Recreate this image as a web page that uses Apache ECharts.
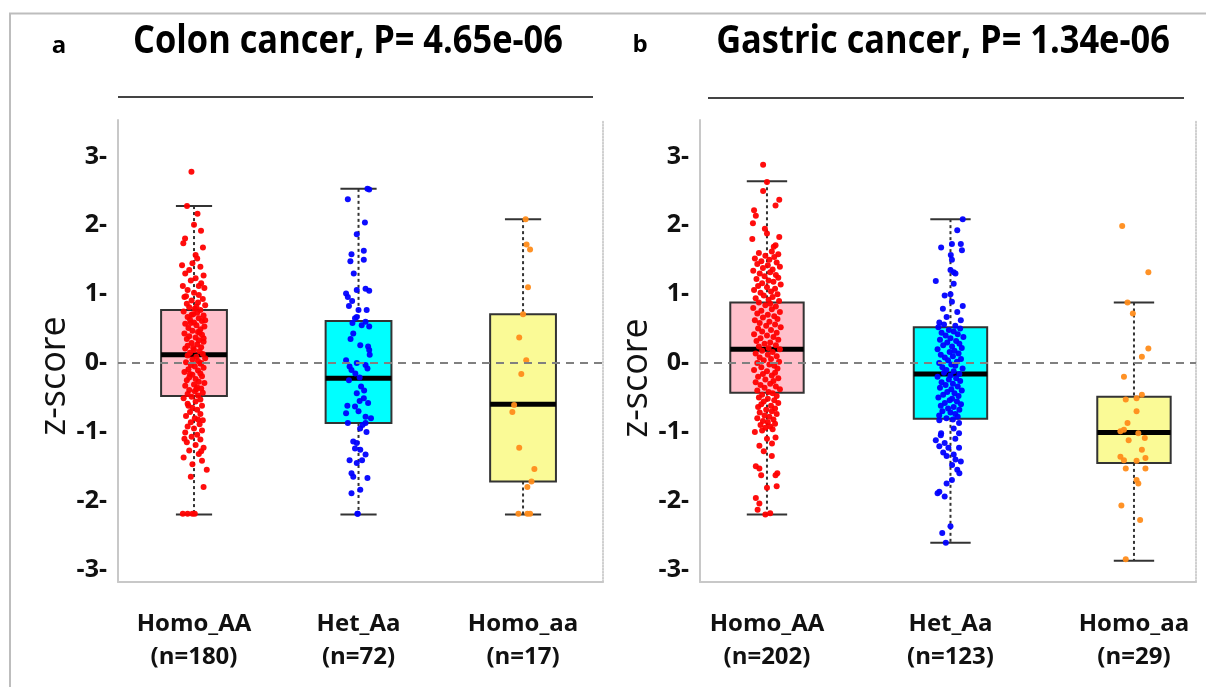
<!DOCTYPE html>
<html>
<head>
<meta charset="utf-8">
<script src="https://cdn.jsdelivr.net/npm/echarts@6/dist/echarts.min.js"></script>
<style>
  html, body { margin: 0; padding: 0; background: #fff; }
  #chart { width: 1206px; height: 687px; }
</style>
</head>
<body>
<div id="chart"></div>
<script>
const groups = ["Homo_AA", "Het_Aa", "Homo_aa"];
const colonCounts = [180, 72, 17];
const gastricCounts = [202, 123, 29];
const yTicks = [-3, -2, -1, 0, 1, 2, 3];

// box stats: [lower whisker, Q1, median, Q3, upper whisker]
const colonBoxes = [
  [-2.2, -0.48, 0.12, 0.77, 2.28],
  [-2.2, -0.87, -0.22, 0.61, 2.53],
  [-2.2, -1.72, -0.6, 0.71, 2.09],
];
const gastricBoxes = [
  [-2.2, -0.43, 0.2, 0.88, 2.64],
  [-2.61, -0.81, -0.16, 0.52, 2.09],
  [-2.87, -1.45, -1.01, -0.49, 0.88],
];

// points: [jitter (-1..1), z-score]
const colonAA = [
  [-0.16,2.78],[-0.44,2.28],[0.22,2.17],[0,2.01],[0.44,1.92],[-0.56,1.81],[-0.67,1.74],[0.56,1.68],[0.1,1.57],[0.2,1.52],
  [-0.1,1.45],[-0.75,1.42],[0.4,1.40],[-0.3,1.35],[-0.55,1.30],[0.6,1.27],[0.1,1.23],[-0.2,1.20],[0.45,1.16],[-0.7,1.12],
  [0.65,1.09],[-0.4,1.06],[0,1.02],[0.3,0.99],[-0.6,0.96],[0.55,0.93],[-0.15,0.91],[0.25,0.88],[-0.45,0.86],[0.7,0.84],
  [-0.3,0.81],[0.05,0.79],[0.4,0.77],[-0.65,0.75],[0.2,0.73],[-0.05,0.71],[0.6,0.69],[-0.4,0.67],[0.3,0.65],[-0.25,0.63],
  [0.5,0.61],[0,0.59],[-0.55,0.57],[0.15,0.55],[0.65,0.53],[-0.35,0.51],[0.4,0.49],[-0.1,0.47],[0.25,0.45],[-0.6,0.43],
  [0.5,0.41],[-0.3,0.39],[0.1,0.37],[-0.45,0.35],[0.3,0.33],[0.6,0.31],[-0.15,0.29],[0.2,0.27],[-0.4,0.25],[0.45,0.23],
  [-0.55,0.21],[0,0.19],[0.35,0.17],[-0.25,0.15],[0.55,0.13],[-0.4,0.11],[0.15,0.09],[0.7,0.07],[-0.1,0.05],[0.25,0.03],
  [-0.5,0.01],[0.4,-0.01],[-0.2,-0.03],[0.05,-0.05],[0.6,-0.07],[-0.35,-0.09],[0.25,-0.11],[-0.6,-0.13],[0.4,-0.15],[-0.1,-0.17],
  [0.5,-0.19],[-0.3,-0.21],[0.1,-0.23],[-0.45,-0.25],[0.3,-0.27],[0.65,-0.29],[0,-0.31],[-0.55,-0.33],[0.2,-0.35],[0.45,-0.37],
  [-0.3,-0.39],[0.05,-0.41],[0.55,-0.43],[-0.4,-0.45],[0.25,-0.47],[-0.15,-0.49],[-0.65,-0.51],[0.4,-0.53],[0.1,-0.56],[-0.4,-0.59],
  [0.5,-0.62],[-0.1,-0.65],[0.2,-0.68],[-0.25,-0.71],[0.4,-0.74],[-0.5,-0.77],[0.05,-0.80],[0.55,-0.83],[-0.2,-0.86],[0.35,-0.89],
  [-0.4,-0.92],[0,-0.95],[0.5,-0.98],[-0.55,-1.01],[0.2,-1.04],[-0.15,-1.07],[0.4,-1.11],[-0.45,-1.15],[0.1,-1.19],[0.6,-1.23],
  [-0.3,-1.27],[0.3,-1.32],[-0.65,-1.37],[0.5,-1.42],[-0.1,-1.47],[0.8,-1.55],[-0.2,-1.65],[0.6,-1.80],[-0.7,-2.19],[-0.4,-2.19],
  [-0.1,-2.19],[0.05,-2.19],[0.15,0.82],[-0.2,0.58],[0.35,0.44],[-0.05,0.22],[0.45,0.0],[-0.25,-0.16],[0.15,-0.38],[-0.5,0.97],
  [0.3,1.12],[-0.35,-0.62],[0.6,0.36],[-0.15,0.7],[0.25,-0.82],[-0.6,-1.1],[0.45,-1.28],[0.7,0.62],
];
const colonAa = [
  [0.56,2.53],[0.67,2.52],[-0.67,2.38],[0.4,2.04],[-0.11,1.87],[0.33,1.63],[-0.44,1.58],[0.33,1.50],[-0.51,1.48],[-0.78,1.01],
  [-0.67,0.96],[-0.11,1.06],[0.44,1.08],[0.67,1.05],[-0.6,0.83],[0,0.77],[0.51,0.77],[-0.22,0.65],[-0.11,0.67],[-0.38,0.58],
  [0.44,0.60],[0.67,0.53],[-0.33,0.43],[0.11,0.26],[0.6,0.24],[0.67,0.19],[-0.78,0.04],[-0.56,-0.05],[-0.11,0.0],[0.44,-0.03],
  [-0.44,-0.10],[0.56,-0.08],[-0.6,-0.25],[0.07,-0.21],[0.16,-0.34],[-0.11,-0.44],[0.33,-0.51],[0.07,-0.55],[0.6,-0.58],[-0.22,-0.63],
  [0,-0.70],[-0.78,-0.73],[0.44,-0.78],[0.78,-0.80],[-0.67,-0.87],[0.44,-0.87],[-0.33,-1.14],[-0.11,-1.16],[-0.22,-1.24],[0.11,-1.26],
  [0.44,-1.33],[-0.56,-1.41],[-0.11,-1.45],[0.22,-1.41],[-0.44,-1.60],[-0.33,-1.65],[0.56,-1.67],[0.11,-1.84],[-0.44,-1.89],[-0.07,-2.19],
  [0.2,0.55],[-0.5,0.35],[0.7,0.12],[-0.2,-0.15],[0.35,-0.40],[-0.7,-0.62],[0.1,-0.95],[-0.4,0.9],[0.5,-1.0],[-0.3,1.3],
  [0.25,-0.90],[-0.05,-2.19],
];
const colonaa = [
  [0.16,2.09],[0.22,1.72],[0.44,1.65],[0.31,1.10],[0,0.71],[-0.24,0.37],[0.2,0.04],[-0.11,-0.16],[-0.56,-0.61],[-0.67,-0.71],
  [-0.24,-1.23],[0.71,-1.54],[0.53,-1.72],[0.27,-1.80],[-0.29,-2.19],[0.27,-2.19],[0.44,-2.19],
];
const gastricAA = [
  [-0.24,2.88],[0,2.63],[-0.24,2.50],[0.76,2.37],[0.53,2.29],[-0.8,2.22],[-0.69,2.14],[-0.87,2.03],[-0.13,1.95],[0,1.88],
  [-0.91,1.80],[0.76,1.83],[0.53,1.71],[0.42,1.69],
  [0.3,1.62],[-0.5,1.60],[0.7,1.58],[-0.1,1.56],[0.45,1.54],[-0.75,1.52],[0.15,1.50],[-0.35,1.48],[0.6,1.46],[-0.6,1.44],
  [0.05,1.42],[0.8,1.40],[-0.25,1.38],[0.35,1.36],[-0.85,1.34],[0.2,1.32],[-0.45,1.30],[0.55,1.28],[-0.15,1.26],[0.7,1.24],
  [-0.65,1.22],[0.1,1.20],[0.4,1.18],[-0.3,1.16],[0.85,1.14],[-0.55,1.12],[0,1.10],[0.5,1.08],[-0.8,1.06],[0.25,1.04],
  [-0.4,1.02],[0.65,1.00],[-0.2,0.98],[0.35,0.96],[-0.7,0.94],[0.1,0.92],[0.75,0.90],[-0.5,0.88],[0.2,0.86],[-0.1,0.84],
  [0.55,0.82],[-0.85,0.80],[0.3,0.78],[-0.35,0.76],[0.8,0.74],[-0.6,0.72],[0.05,0.70],[0.45,0.68],[-0.25,0.66],[0.65,0.64],
  [-0.75,0.62],[0.15,0.60],[-0.45,0.58],[0.5,0.56],[-0.05,0.54],[0.85,0.52],[-0.55,0.50],[0.25,0.48],[-0.3,0.46],[0.6,0.44],
  [-0.8,0.42],[0,0.40],[0.4,0.38],[-0.4,0.36],[0.7,0.34],[-0.65,0.32],[0.2,0.30],[-0.15,0.28],[0.55,0.26],[-0.5,0.24],
  [0.1,0.22],[0.8,0.20],[-0.3,0.18],[0.35,0.16],[-0.7,0.14],[0.05,0.12],[0.6,0.10],[-0.45,0.08],[0.25,0.06],[-0.2,0.04],
  [0.75,0.02],[-0.6,0.00],[0.15,-0.02],[0.45,-0.04],[-0.35,-0.06],[0.65,-0.08],[-0.8,-0.10],[0,-0.12],[0.5,-0.14],[-0.25,-0.16],
  [0.3,-0.18],[-0.55,-0.20],[0.7,-0.22],[-0.1,-0.24],[0.4,-0.26],[-0.7,-0.28],[0.2,-0.30],[-0.4,-0.32],[0.55,-0.34],[-0.15,-0.36],
  [0.8,-0.38],[-0.6,-0.40],[0.1,-0.42],[0.35,-0.44],[-0.3,-0.46],[0.6,-0.48],[-0.5,-0.50],[0.05,-0.52],[0.45,-0.54],[-0.2,-0.56],
  [0.7,-0.58],[-0.35,-0.60],[0.25,-0.62],[-0.55,-0.64],[0.5,-0.66],[-0.05,-0.68],[0.3,-0.70],[-0.45,-0.72],[0.6,-0.74],[-0.15,-0.76],
  [0.15,-0.78],[-0.6,-0.80],[0.4,-0.82],[-0.25,-0.84],[0.05,-0.86],[0.5,-0.88],[-0.4,-0.90],[0.2,-0.92],[-0.1,-0.94],[0.35,-0.96],
  [-0.3,-0.98],
  [-0.47,-1.20],[0,-1.10],[0.53,-1.08],[0.31,-1.17],[-0.69,-1.50],[-0.47,-1.53],[0.64,-1.60],[0.53,-1.63],[-0.36,-1.63],[0,-1.81],
  [0.6,-1.79],[-0.69,-1.96],[-0.47,-2.04],[-0.58,-2.13],[0.2,-2.18],[-0.1,-2.2],[-0.75,-1.00],[0.3,-1.35],[-0.2,-1.28],
];
const gastricAa = [
  [0.76,2.09],[0.42,1.93],[0.09,1.73],[0.64,1.73],[0.71,1.64],[-0.58,1.68],[0.02,1.57],[0.09,1.50],[0,1.35],[0.2,1.32],
  [0.31,1.30],[0.2,1.15],[-0.91,1.19],[-0.36,0.98],[0,1.0],[0.09,0.89],[0.76,0.83],[-0.47,0.79],[0.42,0.74],[-0.24,0.67],
  [0.64,0.62],[-0.69,0.59],
  [-0.4,0.56],[0.3,0.54],[-0.75,0.52],[0.6,0.50],[-0.1,0.48],[0.2,0.46],[-0.55,0.44],[0.45,0.42],[-0.3,0.40],[0.8,0.38],
  [0,0.36],[-0.65,0.34],[0.35,0.32],[-0.2,0.30],[0.55,0.28],[-0.45,0.26],[0.1,0.24],[0.7,0.22],[-0.8,0.20],[0.25,0.18],
  [-0.05,0.16],[0.5,0.14],[-0.6,0.12],[0.15,0.10],[-0.35,0.08],[0.65,0.06],[-0.15,0.04],[0.4,0.02],[-0.7,0.00],[0.05,-0.02],
  [0.3,-0.04],[-0.5,-0.06],[0.75,-0.08],[-0.25,-0.10],[0.2,-0.12],[-0.4,-0.14],[0.55,-0.16],[0,-0.18],[-0.8,-0.20],[0.35,-0.22],
  [-0.1,-0.24],[0.6,-0.26],[-0.55,-0.28],[0.15,-0.30],[-0.3,-0.32],[0.45,-0.34],[-0.65,-0.36],[0.05,-0.38],[0.7,-0.40],[-0.2,-0.42],
  [0.25,-0.44],[-0.45,-0.46],[0.5,-0.48],[-0.75,-0.50],[0.1,-0.52],[-0.05,-0.54],[0.4,-0.56],[-0.35,-0.58],[0.65,-0.60],[-0.6,-0.62],
  [0.2,-0.64],[-0.15,-0.66],[0.55,-0.68],[-0.5,-0.70],[0,-0.72],[0.3,-0.74],[-0.7,-0.76],[0.45,-0.78],[-0.25,-0.80],[0.15,-0.82],
  [-0.69,-0.83],[0.53,-0.87],[-0.58,-1.02],[0.53,-1.02],[-0.91,-1.12],[-0.36,-1.16],[-0.69,-1.21],[-0.13,-1.23],[0.53,-1.23],[-0.24,-1.35],
  [0.2,-1.33],[0.31,-1.40],[0.64,-1.43],[0.42,-1.55],[0.09,-1.70],[-0.24,-1.75],[-0.69,-1.87],[-0.8,-1.89],[-0.36,-1.94],[0,-2.37],
  [-0.51,-2.47],[-0.29,-2.61],[0.2,-0.95],[-0.45,-1.30],[0.1,-1.48],[0.55,-1.60],[-0.6,-1.05],[0.3,-1.10],
];
const gastricaa = [
  [-0.73,1.99],[0.89,1.32],[-0.4,0.88],[-0.07,0.72],[0.89,0.21],[0.49,0.09],[-0.62,-0.20],[0.49,-0.46],[0.16,-0.51],[-0.51,-0.53],
  [0.16,-0.70],[-0.4,-0.87],[-0.62,-0.97],[-0.84,-0.99],[0.27,-1.02],[-0.33,-1.12],[0.67,-1.09],[0.49,-1.26],[-0.84,-1.36],[0.71,-1.38],
  [-0.62,-1.41],[0.16,-1.42],[-0.51,-1.53],[0.71,-1.53],[0.16,-1.70],[0.27,-1.75],[-0.78,-2.07],[0.38,-2.28],[-0.51,-2.85],
];

const FONT = '"Open Sans", sans-serif';
const boxFills = ["#ffc0cb", "#00ffff", "#fafa96"];
const dotColors = ["#ff0000", "#0000ff", "#ff8c1a"];
const BOX_HALF = 0.2;
const CAP_HALF = 0.11;

function renderBox(params, api) {
  const x = api.value(0);
  const lo = api.coord([x, api.value(1)]);
  const q1 = api.coord([x, api.value(2)]);
  const md = api.coord([x, api.value(3)]);
  const q3 = api.coord([x, api.value(4)]);
  const hi = api.coord([x, api.value(5)]);
  const left = api.coord([x - BOX_HALF, 0])[0];
  const right = api.coord([x + BOX_HALF, 0])[0];
  const capL = api.coord([x - CAP_HALF, 0])[0];
  const capR = api.coord([x + CAP_HALF, 0])[0];
  const dash = { stroke: "#333", lineWidth: 2, lineDash: [3, 3] };
  const solid = { stroke: "#333", lineWidth: 2 };
  return {
    type: "group",
    children: [
      { type: "line", shape: { x1: hi[0], y1: hi[1], x2: q3[0], y2: q3[1] }, style: dash },
      { type: "line", shape: { x1: q1[0], y1: q1[1], x2: lo[0], y2: lo[1] }, style: dash },
      { type: "line", shape: { x1: capL, y1: hi[1], x2: capR, y2: hi[1] }, style: solid },
      { type: "line", shape: { x1: capL, y1: lo[1], x2: capR, y2: lo[1] }, style: solid },
      {
        type: "rect",
        shape: { x: left, y: q3[1], width: right - left, height: q1[1] - q3[1] },
        style: { fill: boxFills[params.dataIndex], stroke: "#333", lineWidth: 2 },
      },
      { type: "line", shape: { x1: left, y1: md[1], x2: right, y2: md[1] }, style: { stroke: "#000", lineWidth: 5 } },
    ],
  };
}

function yAxes(g) {
  return [
    {
      gridIndex: g, type: "value", min: -3.18, max: 3.53,
      axisLine: { show: true, lineStyle: { color: "#c8c8c8", width: 2 } },
      axisTick: { show: false },
      splitLine: { show: false },
      axisLabel: {
        customValues: yTicks,
        formatter: (v) => Math.round(v) + "-",
        fontFamily: FONT, fontWeight: "bold", fontSize: 25, color: "#111", margin: 11,
      },
    },
    {
      gridIndex: g, type: "value", min: -3.18, max: 3.53, position: "right",
      axisLine: { show: true, lineStyle: { color: "#c0c0c0", width: 1.5, type: "dotted" } },
      axisTick: { show: false }, axisLabel: { show: false }, splitLine: { show: false },
    },
  ];
}

function xAxis(g, min, max, counts) {
  return {
    gridIndex: g, type: "value", min: min, max: max,
    axisLine: { show: true, onZero: false, lineStyle: { color: "#c8c8c8", width: 2 } },
    axisTick: { show: false },
    splitLine: { show: false },
    axisLabel: {
      customValues: [1, 2, 3],
      formatter: (v) => {
        const i = Math.round(v) - 1;
        return groups[i] + "\n(n=" + counts[i] + ")";
      },
      fontFamily: FONT, fontWeight: "bold", fontSize: 24, lineHeight: 33, color: "#111", margin: 26,
    },
  };
}

function panelSeries(g, boxes, sets, jitter) {
  const out = [
    {
      type: "custom",
      xAxisIndex: g, yAxisIndex: g * 2,
      renderItem: renderBox,
      encode: { x: 0, y: [1, 2, 3, 4, 5] },
      data: boxes.map((b, i) => [i + 1].concat(b)),
      z: 2,
      silent: true,
      markLine: {
        silent: true, symbol: "none", label: { show: false },
        lineStyle: { color: "#808080", type: [8, 6], width: 2 },
        data: [{ yAxis: 0 }],
      },
    },
  ];
  sets.forEach((pts, i) => {
    out.push({
      type: "scatter",
      xAxisIndex: g, yAxisIndex: g * 2,
      symbolSize: 6,
      itemStyle: { color: dotColors[i], opacity: 0.95 },
      data: pts.map(([j, z]) => [i + 1 + j * jitter, z]),
      z: 3,
      silent: true,
    });
  });
  return out;
}

const chart = echarts.init(document.getElementById("chart"));

const option = {
  animation: false,
  backgroundColor: "#fff",
  grid: [
    { left: 118, top: 120, width: 485, height: 462 },
    { left: 700, top: 120, width: 496, height: 462 },
  ],
  xAxis: [
    xAxis(0, 0.538, 3.486, colonCounts),
    xAxis(1, 0.635, 3.338, gastricCounts),
  ],
  yAxis: yAxes(0).concat(yAxes(1)),
  series: panelSeries(0, colonBoxes, [colonAA, colonAa, colonaa], 0.097)
    .concat(panelSeries(1, gastricBoxes, [gastricAA, gastricAa, gastricaa], 0.088)),
  graphic: [
    { type: "polyline", shape: { points: [[10, 687], [10, 13.5], [1206, 13.5]] }, style: { stroke: "#bdbdbd", lineWidth: 2, fill: null } },
    { type: "line", shape: { x1: 118, y1: 97, x2: 593, y2: 97 }, style: { stroke: "#444", lineWidth: 2 } },
    { type: "line", shape: { x1: 708, y1: 98, x2: 1184, y2: 98 }, style: { stroke: "#444", lineWidth: 2 } },
    {
      type: "text", x: 348, y: 42, scaleX: 0.86,
      style: { text: "Colon cancer, P= 4.65e-06", fill: "#000", font: 'bold 40px "Open Sans"', textAlign: "center", textVerticalAlign: "middle" },
    },
    {
      type: "text", x: 943, y: 42, scaleX: 0.86,
      style: { text: "Gastric cancer, P= 1.34e-06", fill: "#000", font: 'bold 40px "Open Sans"', textAlign: "center", textVerticalAlign: "middle" },
    },
    { type: "text", x: 59, y: 46, style: { text: "a", fill: "#000", font: 'bold 24px "Open Sans"', textAlign: "center", textVerticalAlign: "middle" } },
    { type: "text", x: 640, y: 45, style: { text: "b", fill: "#000", font: 'bold 24px "Open Sans"', textAlign: "center", textVerticalAlign: "middle" } },
    {
      type: "text", x: 55, y: 376, rotation: Math.PI / 2,
      style: { text: "z-score", fill: "#111", font: '36px "Open Sans"', textAlign: "center", textVerticalAlign: "middle" },
    },
    {
      type: "text", x: 637, y: 378, rotation: Math.PI / 2,
      style: { text: "z-score", fill: "#111", font: '36px "Open Sans"', textAlign: "center", textVerticalAlign: "middle" },
    },
  ],
};

chart.setOption(option);
</script>
</body>
</html>
